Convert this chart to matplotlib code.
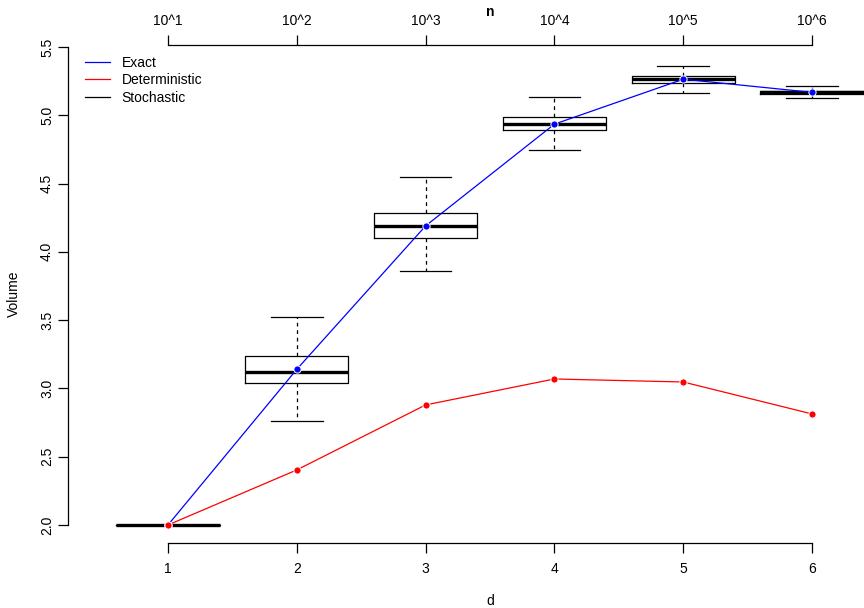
import matplotlib
matplotlib.use("Agg")
import matplotlib.pyplot as plt
from matplotlib.lines import Line2D

plt.rcParams['font.family'] = ['Liberation Sans', 'DejaVu Sans']
plt.rcParams['font.size'] = 10

# dimension d and sample size labels
d = [1, 2, 3, 4, 5, 6]
n_labels = ['10^1', '10^2', '10^3', '10^4', '10^5', '10^6']

# volume of the unit ball
exact = [2.0, 3.14, 4.19, 4.935, 5.264, 5.168]
# deterministic estimate
deterministic = [2.0, 2.403, 2.879, 3.069, 3.047, 2.813]

# stochastic estimates: whisker low, Q1, median, Q3, whisker high
whislo = [2.0, 2.762, 3.858, 4.748, 5.161, 5.124]
q1 = [2.0, 3.040, 4.104, 4.892, 5.236, 5.154]
med = [2.0, 3.120, 4.192, 4.938, 5.263, 5.168]
q3 = [2.0, 3.240, 4.287, 4.985, 5.290, 5.180]
whishi = [2.0, 3.521, 4.546, 5.136, 5.363, 5.214]

fig = plt.figure(figsize=(8.64, 6.08), dpi=100)
W, H = 864, 608
ax = fig.add_axes([68 / W, (H - 543) / H, (864 - 68) / W, (543 - 45) / H])

stats = []
for i in range(len(d)):
    stats.append(dict(whislo=whislo[i], q1=q1[i], med=med[i], q3=q3[i],
                      whishi=whishi[i], fliers=[]))

ax.bxp(stats, positions=d, widths=0.8, showfliers=False,
       boxprops=dict(color='black', linewidth=0.9),
       medianprops=dict(color='black', linewidth=2.4, solid_capstyle='butt'),
       whiskerprops=dict(color='black', linewidth=0.9, linestyle=(0, (3, 3))),
       capprops=dict(color='black', linewidth=0.9),
       capwidths=0.4, manage_ticks=False)

ax.plot(d, exact, color='blue', linewidth=0.9, zorder=4)
ax.plot(d, exact, 'o', color='blue', markersize=5.2, markeredgecolor='white',
        markeredgewidth=0.7, zorder=5)
ax.plot(d, deterministic, color='red', linewidth=0.9, zorder=4)
ax.plot(d, deterministic, 'o', color='red', markersize=5.2, markeredgecolor='white',
        markeredgewidth=0.7, zorder=5)

ax.set_xlim(0.2236, 6.4037)
ax.set_ylim(1.868, 5.5146)

ax.spines['right'].set_visible(False)
ax.spines['top'].set_visible(False)
ax.spines['left'].set_bounds(2.0, 5.5)
ax.spines['bottom'].set_bounds(1, 6)
for s in ['left', 'bottom']:
    ax.spines[s].set_linewidth(0.9)

ax.set_xticks(d)
ax.set_xticklabels([str(v) for v in d])
ax.set_yticks([2.0, 2.5, 3.0, 3.5, 4.0, 4.5, 5.0, 5.5])
ax.set_yticklabels(['2.0', '2.5', '3.0', '3.5', '4.0', '4.5', '5.0', '5.5'],
                   rotation=90, va='center')
ax.tick_params(axis='both', direction='out', length=7, width=0.9, labelsize=10)
ax.tick_params(axis='x', pad=7)
ax.tick_params(axis='y', pad=3)

top = ax.twiny()
top.set_xlim(ax.get_xlim())
top.set_xticks(d)
top.set_xticklabels(n_labels)
for s in ['left', 'right', 'bottom']:
    top.spines[s].set_visible(False)
top.spines['top'].set_bounds(1, 6)
top.spines['top'].set_linewidth(0.9)
top.tick_params(axis='x', direction='out', length=7, width=0.9, labelsize=10, pad=5)

fig.text(490 / W, 1 - 12 / H, 'n', fontsize=10, fontweight='bold', ha='center', va='center')
fig.text(490 / W, 1 - 601 / H, 'd', fontsize=10, ha='center', va='center')
fig.text(14 / W, 1 - 294 / H, 'Volume', fontsize=10, rotation=90, ha='center', va='center')

handles = [Line2D([], [], color='blue', linewidth=0.9),
           Line2D([], [], color='red', linewidth=0.9),
           Line2D([], [], color='black', linewidth=0.9)]
fig.legend(handles, ['Exact', 'Deterministic', 'Stochastic'], loc='upper left',
           bbox_to_anchor=(85 / W, 1 - 56 / H), frameon=False, fontsize=10,
           borderpad=0, borderaxespad=0,
           handlelength=1.8, handletextpad=0.85, labelspacing=0.24)

fig.savefig('out.png', dpi=100)
